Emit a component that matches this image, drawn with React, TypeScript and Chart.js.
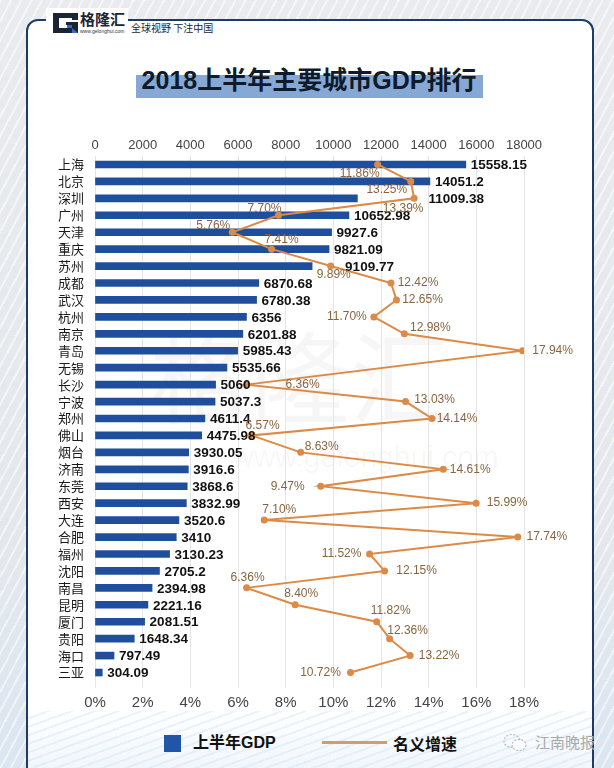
import React, { useEffect, useRef } from "react";
import { Chart, registerables } from "chart.js";

Chart.register(...registerables);

// ---------------- data ----------------
const cities = [
  "上海", "北京", "深圳", "广州", "天津", "重庆", "苏州", "成都", "武汉", "杭州",
  "南京", "青岛", "无锡", "长沙", "宁波", "郑州", "佛山", "烟台", "济南", "东莞",
  "西安", "大连", "合肥", "福州", "沈阳", "南昌", "昆明", "厦门", "贵阳", "海口", "三亚",
];

const gdpValues = [
  15558.15, 14051.2, 11009.38, 10652.98, 9927.6, 9821.09, 9109.77, 6870.68, 6780.38, 6356,
  6201.88, 5985.43, 5535.66, 5060, 5037.3, 4611.4, 4475.98, 3930.05, 3916.6, 3868.6,
  3832.99, 3520.6, 3410, 3130.23, 2705.2, 2394.98, 2221.16, 2081.51, 1648.34, 797.49, 304.09,
];

const growthValues: (number | null)[] = [
  11.86, 13.25, 13.39, 7.7, 5.76, 7.41, 9.89, 12.42, 12.65, 11.7,
  12.98, 17.94, null, 6.36, 13.03, 14.14, 6.57, 8.63, 14.61, 9.47,
  15.99, 7.1, 17.74, 11.52, 12.15, 6.36, 8.4, 11.82, 12.36, 13.22, 10.72,
];

const gdpAxis = { min: 0, max: 18000, step: 2000 };
const growthAxis = { min: 0, max: 18, step: 2 };

const titleText = "2018上半年主要城市GDP排行";
const legendBar = "上半年GDP";
const legendLine = "名义增速";

// ---------------- styles (label placement) ----------------
// extra horizontal shift of the GDP value label (px)
const valueLabelShift = [0, 0, 66, 0, 0, 0, 28, 0, 0, 0, 0, 0, 0, 0, 0, 0, 0, 0, 0, 0, 0, 0, 0, 0, 0, 0, 0, 0, 0, 0, 0];
// growth label center offset from its point (px)
const growthLabelOffset: [number, number][] = [
  [-18, 9], [-24, 8], [-11, 10], [-14, -7], [-19, -7], [10, -9], [3, 9], [27, 0], [26, 0], [-27, 0],
  [26, -6], [30, 0], [0, 0], [56, 0], [29, -2], [25, 0], [11, -10], [21, -6], [27, 0], [-33, 0],
  [31, 0], [15, -10], [29, 0], [-28, 0], [32, 0], [1, -10], [6, -11], [14, -11], [18, -8], [29, 0], [-30, 0],
];

const BAR_COLOR = "#1f4f9c";
const LINE_COLOR = "#dc8a45";
const SANS = '"Liberation Sans", Arial, "Noto Sans CJK SC", sans-serif';
const CJK = '"Noto Sans CJK SC", "Liberation Sans", sans-serif';

const labelPlugin = {
  id: "valueLabels",
  afterDatasetsDraw(chart: any) {
    const ctx = chart.ctx;
    ctx.save();
    const barMeta = chart.getDatasetMeta(0);
    ctx.font = `bold 13.5px ${SANS}`;
    ctx.fillStyle = "#111111";
    ctx.textBaseline = "middle";
    ctx.textAlign = "left";
    barMeta.data.forEach((el: any, i: number) => {
      ctx.fillText(String(gdpValues[i]), el.x + 5 + valueLabelShift[i], el.y + 1);
    });
    const lineMeta = chart.getDatasetMeta(1);
    ctx.font = `12px ${SANS}`;
    ctx.fillStyle = "#86653f";
    ctx.textAlign = "center";
    lineMeta.data.forEach((pt: any, i: number) => {
      const v = growthValues[i];
      if (v == null) return;
      const [dx, dy] = growthLabelOffset[i];
      ctx.fillText(v.toFixed(2) + "%", pt.x + dx, pt.y + dy);
    });
    ctx.restore();
  },
};

function GdpChart() {
  const ref = useRef<HTMLCanvasElement | null>(null);
  useEffect(() => {
    if (!ref.current) return;
    const chart = new Chart(ref.current, {
      type: "bar",
      data: {
        labels: cities,
        datasets: [
          {
            type: "bar",
            label: legendBar,
            data: gdpValues,
            backgroundColor: BAR_COLOR,
            barThickness: 7,
            xAxisID: "x",
            yAxisID: "y",
            order: 2,
          } as any,
          {
            type: "line",
            label: legendLine,
            data: growthValues,
            indexAxis: "y",
            borderColor: LINE_COLOR,
            backgroundColor: LINE_COLOR,
            borderWidth: 2,
            pointRadius: 3.5,
            pointBorderWidth: 0,
            pointBackgroundColor: LINE_COLOR,
            spanGaps: true,
            tension: 0,
            xAxisID: "x2",
            yAxisID: "y",
            order: 1,
          } as any,
        ],
      },
      options: {
        indexAxis: "y",
        responsive: false,
        animation: false,
        devicePixelRatio: 1,
        layout: { padding: { left: 0, right: 90, top: 0, bottom: 0 } },
        plugins: { legend: { display: false }, tooltip: { enabled: false }, title: { display: false } },
        scales: {
          x: {
            type: "linear",
            position: "top",
            min: gdpAxis.min,
            max: gdpAxis.max,
            ticks: {
              stepSize: gdpAxis.step,
              callback: (v: any) => String(v),
              font: { size: 13, family: SANS },
              color: "#444444",
              padding: 3,
            },
            grid: { color: "#e4e4e4", drawTicks: false, lineWidth: 1 },
            border: { display: false },
            afterFit: (s: any) => {
              s.height = 36;
            },
          },
          x2: {
            type: "linear",
            position: "bottom",
            min: growthAxis.min,
            max: growthAxis.max,
            ticks: {
              stepSize: growthAxis.step,
              callback: (v: any) => v + "%",
              font: { size: 15, family: SANS },
              color: "#444444",
              padding: 6,
            },
            grid: { display: true, drawOnChartArea: false, drawTicks: true, tickLength: 7, color: "#e4e4e4" },
            border: { display: false },
            afterFit: (s: any) => {
              s.height = 39;
            },
          },
          y: {
            type: "category",
            position: "left",
            grid: { display: false, drawTicks: false },
            border: { display: false },
            ticks: {
              autoSkip: false,
              font: { size: 13, family: CJK },
              color: "#1a1a1a",
              padding: 11,
            },
            afterFit: (s: any) => {
              s.width = 95;
            },
          },
        },
      } as any,
      plugins: [labelPlugin],
    });
    return () => chart.destroy();
  }, []);
  return <canvas ref={ref} width={614} height={600} style={{ display: "block", width: 614, height: 600 }} />;
}

export default function App() {
  useEffect(() => {
    document.body.style.margin = "0";
  }, []);
  return (
    <div
      style={{
        position: "absolute",
        left: 0,
        top: 0,
        width: 614,
        height: 768,
        overflow: "hidden",
        background:
          "repeating-linear-gradient(118deg, rgba(255,255,255,0.55) 0px, rgba(255,255,255,0.55) 2px, rgba(255,255,255,0) 2px, rgba(255,255,255,0) 9px), linear-gradient(180deg, #e9ebee 0%, #e4e8ec 70%, #dbe6f1 100%)",
        fontFamily: CJK,
      }}
    >
      {/* panel */}
      <div
        style={{
          position: "absolute",
          left: 26,
          top: 19,
          width: 564,
          height: 800,
          border: "2px solid #1e3b66",
          borderRadius: 12,
          background: "#ffffff",
          overflow: "hidden",
        }}
      >
        <div
          style={{
            position: "absolute",
            left: 0,
            right: 0,
            top: 690,
            height: 110,
            background:
              "repeating-linear-gradient(160deg, rgba(255,255,255,0) 0px, rgba(255,255,255,0) 6px, rgba(200,222,242,0.35) 6px, rgba(200,222,242,0.35) 8px), linear-gradient(180deg, rgba(255,255,255,0) 0%, rgba(205,224,243,0.55) 100%)",
          }}
        />
      </div>

      {/* logo */}
      <div style={{ position: "absolute", left: 46, top: 8, width: 82, height: 24, background: "#ffffff" }} />
      <svg style={{ position: "absolute", left: 53, top: 13 }} width={25} height={20} viewBox="0 0 25 20">
        <path d="M0 0H25V7H19V5H6V15H19V12H13V9H25V20H0Z" fill="#1b2535" />
        <path d="M14 12H19V15H14Z" fill="#2f6fc0" />
        <path d="M19 15L25 20H19Z" fill="#2f6fc0" />
      </svg>
      <div
        style={{
          position: "absolute",
          left: 80,
          top: 10,
          fontSize: 15,
          fontWeight: 700,
          color: "#1b2535",
          lineHeight: "18px",
          letterSpacing: 0,
        }}
      >
        格隆汇
      </div>
      <div
        style={{
          position: "absolute",
          left: 80,
          top: 28,
          fontSize: 5,
          color: "#333",
          lineHeight: "6px",
          fontFamily: SANS,
        }}
      >
        www.gelonghui.com
      </div>
      <div
        style={{
          position: "absolute",
          left: 131,
          top: 22,
          fontSize: 10,
          color: "#1b2535",
          lineHeight: "12px",
          whiteSpace: "nowrap",
        }}
      >
        全球视野 下注中国
      </div>

      {/* title */}
      <div style={{ position: "absolute", left: 136, top: 75, width: 347, height: 23, background: "#85a8d5" }} />
      <div
        style={{
          position: "absolute",
          left: 0,
          width: 618,
          top: 63,
          textAlign: "center",
          fontSize: 25,
          fontWeight: 700,
          lineHeight: "34px",
          color: "#0f1a2b",
          fontFamily: '"Liberation Sans", "Noto Sans CJK SC", sans-serif',
          whiteSpace: "nowrap",
        }}
      >
        {titleText}
      </div>

      {/* faint watermark */}
      <div
        style={{
          position: "absolute",
          left: 150,
          top: 318,
          fontSize: 100,
          color: "rgba(0,0,0,0.035)",
          lineHeight: "110px",
          whiteSpace: "nowrap",
        }}
      >
        格隆汇
      </div>
      <div
        style={{
          position: "absolute",
          left: 232,
          top: 440,
          fontSize: 30,
          color: "rgba(0,0,0,0.04)",
          fontFamily: SANS,
          whiteSpace: "nowrap",
        }}
      >
        www.gelonghui.com
      </div>

      {/* chart */}
      <div style={{ position: "absolute", left: 0, top: 120, width: 614, height: 600 }}>
        <GdpChart />
      </div>

      {/* legend */}
      <div style={{ position: "absolute", left: 164, top: 735, width: 17, height: 17, background: "#2155a8" }} />
      <div
        style={{
          position: "absolute",
          left: 193,
          top: 732,
          fontSize: 16,
          fontWeight: 700,
          color: "#111",
          lineHeight: "22px",
          fontFamily: '"Liberation Sans", "Noto Sans CJK SC", sans-serif',
          whiteSpace: "nowrap",
        }}
      >
        {legendBar}
      </div>
      <div style={{ position: "absolute", left: 322, top: 741, width: 65, height: 3, background: "#d99b63" }} />
      <div
        style={{
          position: "absolute",
          left: 393,
          top: 732,
          fontSize: 16,
          fontWeight: 700,
          color: "#111",
          lineHeight: "22px",
          whiteSpace: "nowrap",
        }}
      >
        {legendLine}
      </div>

      {/* source mark */}
      <svg style={{ position: "absolute", left: 502, top: 733 }} width={27} height={20} viewBox="0 0 27 20">
        <ellipse cx="10" cy="8" rx="8" ry="6.5" fill="none" stroke="#b9b9b9" strokeWidth="1.2" strokeDasharray="2 1.5" />
        <ellipse cx="17" cy="12" rx="7" ry="5.5" fill="rgba(255,255,255,0.8)" stroke="#b9b9b9" strokeWidth="1.2" strokeDasharray="2 1.5" />
      </svg>
      <div
        style={{
          position: "absolute",
          left: 535,
          top: 732,
          fontSize: 15,
          color: "#a9a9a9",
          lineHeight: "20px",
          whiteSpace: "nowrap",
        }}
      >
        江南晚报
      </div>
    </div>
  );
}
